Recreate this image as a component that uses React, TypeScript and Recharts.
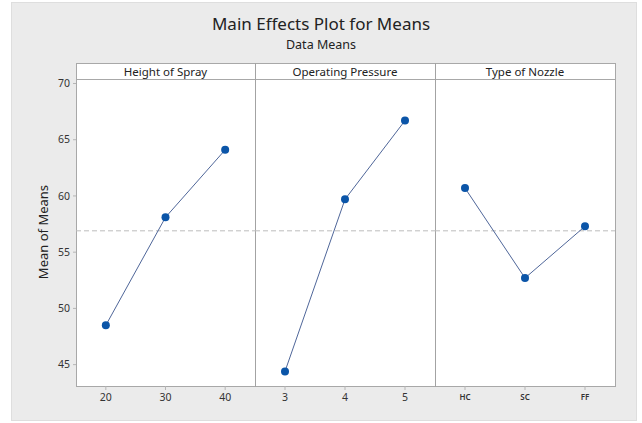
import React from 'react'
import { LineChart, Line, XAxis, YAxis, ReferenceLine } from 'recharts'

// factor levels and their response means
const heightLevels = ['20', '30', '40']
const heightMeans = [48.5, 58.1, 64.1]

const pressureLevels = ['3', '4', '5']
const pressureMeans = [44.4, 59.7, 66.7]

const nozzleLevels = ['HC', 'SC', 'FF']
const nozzleMeans = [60.7, 52.7, 57.3]

const factorNames = ['Height of Spray', 'Operating Pressure', 'Type of Nozzle']
const yTicks = [45, 50, 55, 60, 65, 70]
const grandMean = 56.9

const Y_DOMAIN: [number, number] = [43.1, 70.4]
const FONT = '"Noto Sans", "Open Sans", sans-serif'
const FRAME = '#a8a8a8'
const LINE_COLOR = '#4f6699'
const DOT_COLOR = '#0b55a8'

// panel geometry (page coords)
const PLOT_TOP = 79
const PLOT_H = 307
const AXIS_H = 30
const TOP_PAD = 10
const PANELS = [
  { left: 76, width: 179 },
  { left: 255, width: 180 },
  { left: 435, width: 180 },
]
const Y_AXIS_W = 50

function toRows(levels: string[], means: number[]) {
  return levels.map((level, i) => ({ level, mean: means[i] }))
}

interface PanelProps {
  index: number
  levels: string[]
  means: number[]
  showY?: boolean
  small?: boolean
}

function Panel({ index, levels, means, showY, small }: PanelProps) {
  const { left, width } = PANELS[index]
  const pad = width / 6
  const chartW = width + (showY ? Y_AXIS_W : 0)
  return (
    <div style={{ position: 'absolute', left: left - (showY ? Y_AXIS_W : 0), top: PLOT_TOP - TOP_PAD }}>
      <LineChart
        width={chartW}
        height={PLOT_H + AXIS_H + TOP_PAD}
        data={toRows(levels, means)}
        margin={{ top: TOP_PAD, right: 0, bottom: 0, left: 0 }}
      >
        <XAxis
          dataKey="level"
          padding={{ left: pad, right: pad }}
          height={AXIS_H}
          axisLine={false}
          tickSize={4}
          tickMargin={4}
          tickLine={{ stroke: '#b5b5b5' }}
          tick={{ fill: '#333', fontSize: small ? 8 : 10.5, fontWeight: small ? 600 : 400, fontFamily: FONT }}
        />
        <YAxis
          hide={!showY}
          width={Y_AXIS_W}
          domain={Y_DOMAIN}
          ticks={yTicks}
          allowDataOverflow
          axisLine={false}
          tickSize={3}
          tickMargin={3}
          tickLine={{ stroke: '#b5b5b5' }}
          tick={{ fill: '#333', fontSize: 10.5, fontFamily: FONT }}
        />
        <ReferenceLine y={grandMean} stroke="#bdbdbd" strokeDasharray="5 3" strokeWidth={1} />
        <Line
          type="linear"
          dataKey="mean"
          stroke={LINE_COLOR}
          strokeWidth={1}
          dot={{ r: 4, fill: DOT_COLOR, stroke: DOT_COLOR, strokeWidth: 0 }}
          isAnimationActive={false}
        />
      </LineChart>
    </div>
  )
}

export default function App() {
  const plotLeft = PANELS[0].left
  const plotRight = PANELS[2].left + PANELS[2].width
  return (
    <div style={{ position: 'absolute', left: 0, top: 0, width: 642, height: 423, background: '#fff', fontFamily: FONT, color: '#222' }}>
      {/* gray figure backdrop */}
      <div style={{ position: 'absolute', left: 11, top: 2, width: 626, height: 419, background: '#ebebeb', border: '1px solid #dedede', boxSizing: 'border-box' }} />

      <div style={{ position: 'absolute', left: 0, width: 642, top: 13, textAlign: 'center', fontSize: 17, lineHeight: '22px' }}>
        Main Effects Plot for Means
      </div>
      <div style={{ position: 'absolute', left: 0, width: 642, top: 36, textAlign: 'center', fontSize: 12.5, lineHeight: '18px' }}>
        Data Means
      </div>

      {/* plot area */}
      <div style={{ position: 'absolute', left: plotLeft, top: PLOT_TOP, width: plotRight - plotLeft + 1, height: PLOT_H + 1, background: '#fff', border: `1px solid ${FRAME}`, borderTop: 'none', boxSizing: 'border-box' }} />

      {/* factor header strip */}
      <div style={{ position: 'absolute', left: plotLeft, top: 63, width: plotRight - plotLeft + 1, height: 17, background: '#fff', border: `1px solid ${FRAME}`, boxSizing: 'border-box' }} />
      {PANELS.map((p, i) => (
        <div key={i} style={{ position: 'absolute', left: p.left, top: 63, width: p.width, height: 17, textAlign: 'center', fontSize: 11.5, lineHeight: '17px', color: '#222' }}>
          {factorNames[i]}
        </div>
      ))}

      {PANELS.slice(1).map((p, i) => (
        <div key={i} style={{ position: 'absolute', left: p.left, top: 63, width: 1, height: PLOT_H + 17, background: '#a3a3a3' }} />
      ))}

      <div style={{ position: 'absolute', left: 43 - 60, top: 232 - 10, width: 120, height: 20, textAlign: 'center', fontSize: 13, lineHeight: '20px', transform: 'rotate(-90deg)' }}>
        Mean of Means
      </div>

      <Panel index={0} levels={heightLevels} means={heightMeans} showY />
      <Panel index={1} levels={pressureLevels} means={pressureMeans} />
      <Panel index={2} levels={nozzleLevels} means={nozzleMeans} small />
    </div>
  )
}
